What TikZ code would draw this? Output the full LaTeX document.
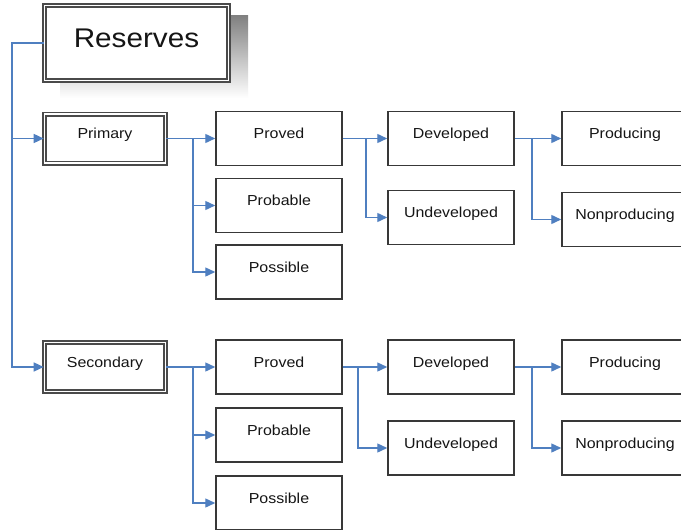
\documentclass[tikz,border=0pt]{standalone}
\usepackage{fontspec}
\setmainfont{Liberation Sans}[FakeStretch=1.1]
\usetikzlibrary{arrows.meta}
\definecolor{conn}{HTML}{4F7FC0}
\definecolor{bord}{HTML}{383838}
\definecolor{dbord}{HTML}{4A4A4A}
\definecolor{shade}{HTML}{C8C8C8}
\definecolor{txt}{HTML}{151515}
\tikzset{
  box/.style={draw=bord, line width=1.5pt, fill=white, inner sep=0pt,
    minimum width=126pt, minimum height=54pt, text=txt,
    font=\fontsize{14.5}{16}\selectfont, text height=10.4pt, text depth=9.6pt},
  dbox/.style={box, draw=dbord, line width=1.6pt, double=white, double distance=1.8pt,
    minimum width=121pt, minimum height=49pt},
  conn/.style={draw=conn, line width=1.4pt},
  arr/.style={conn, -{Triangle[length=10pt,width=9pt]}},
}
\begin{document}
\begin{tikzpicture}[x=1pt,y=-1pt]
\clip (0,0) rectangle (681,530);
\fill[white] (0,0) rectangle (681,530);
% shadow of the title box
\fill[shade] (60,15) rectangle (248,98);
\node[dbox, minimum width=184pt, minimum height=75pt,
  font=\fontsize{27}{30}\selectfont, text height=19.3pt, text depth=10.3pt] (res) at (136.5,43) {Reserves};

\node[dbox] (prim) at (105,138.5) {Primary};
\node[dbox] (sec)  at (105,367) {Secondary};

% Primary group
\node[box] (pv1) at (279,138.5) {Proved};
\node[box] (pb1) at (279,205.5) {Probable};
\node[box] (ps1) at (279,272) {Possible};
\node[box] (dv1) at (451,138.5) {Developed};
\node[box] (ud1) at (451,217.5) {Undeveloped};
\node[box] (pr1) at (625,138.5) {Producing};
\node[box] (np1) at (625,219.5) {Nonproducing};

% Secondary group
\node[box] (pv2) at (279,367) {Proved};
\node[box] (pb2) at (279,435) {Probable};
\node[box] (ps2) at (279,503) {Possible};
\node[box] (dv2) at (451,367) {Developed};
\node[box] (ud2) at (451,448) {Undeveloped};
\node[box] (pr2) at (625,367) {Producing};
\node[box] (np2) at (625,448) {Nonproducing};

% trunk from Reserves
\coordinate (t0) at (12,43);
\draw[arr] (res.west) -- (t0) |- (sec.west);
\draw[arr] (t0 |- prim.west) -- (prim.west);

% Primary branches
\coordinate (a1) at (193,138.5);
\draw[arr] (prim.east) -- (pv1.west);
\draw[arr] (a1) |- (pb1.west);
\draw[arr] (a1) |- (ps1.west);
\coordinate (b1) at (366,138.5);
\draw[arr] (pv1.east) -- (dv1.west);
\draw[arr] (b1) |- (ud1.west);
\coordinate (c1) at (532,138.5);
\draw[arr] (dv1.east) -- (pr1.west);
\draw[arr] (c1) |- (np1.west);

% Secondary branches
\coordinate (a2) at (193,367);
\draw[arr] (sec.east) -- (pv2.west);
\draw[arr] (a2) |- (pb2.west);
\draw[arr] (a2) |- (ps2.west);
\coordinate (b2) at (358,367);
\draw[arr] (pv2.east) -- (dv2.west);
\draw[arr] (b2) |- (ud2.west);
\coordinate (c2) at (532,367);
\draw[arr] (dv2.east) -- (pr2.west);
\draw[arr] (c2) |- (np2.west);
\end{tikzpicture}
\end{document}
